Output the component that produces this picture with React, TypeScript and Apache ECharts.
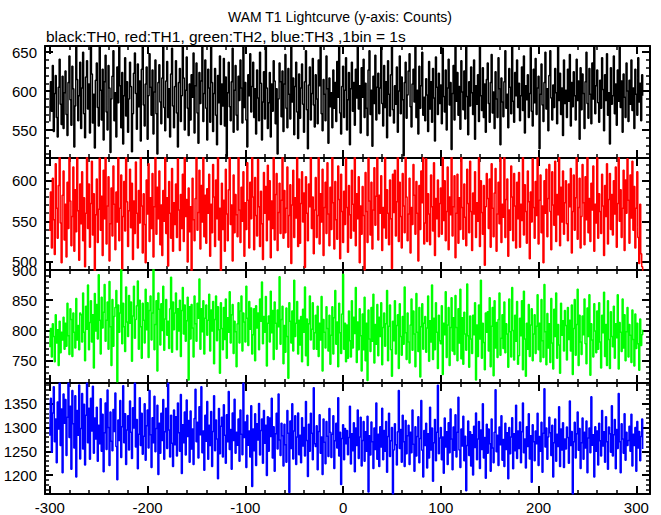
import React, { useEffect, useRef } from "react";
import * as echarts from "echarts";

// first bin time (s), 1 bin = 1 s
const T0 = -300;

// TH0 (black) counts per bin
const th0 = [
  561,612,574,633,548,597,620,566,541,605,641,583,557,619,552,598,
  626,570,543,611,645,589,556,632,603,528,581,657,615,562,594,637,
  552,604,650,571,540,618,639,577,609,546,658,622,559,596,527,614,
  636,579,555,659,601,563,628,537,612,646,573,550,633,604,521,590,
  619,652,562,598,541,631,585,658,607,553,624,532,594,643,568,612,
  547,590,637,606,522,571,623,649,597,551,635,580,613,536,628,658,
  582,555,609,631,538,594,648,605,569,627,545,599,640,571,519,611,
  634,586,558,617,658,579,549,613,638,566,603,541,622,655,581,553,
  606,639,572,528,611,629,561,594,658,617,550,601,644,578,543,609,
  563,621,592,649,546,607,636,572,533,624,584,613,658,561,597,640,
  578,537,628,604,560,658,611,548,597,629,569,531,620,585,645,557,
  609,581,642,555,618,516,598,637,580,562,612,655,547,601,633,569,
  550,619,588,640,604,559,658,579,611,563,528,621,594,648,573,606,
  637,566,603,545,627,591,562,650,610,537,586,625,564,658,604,552,
  585,624,541,609,574,639,613,558,603,519,590,636,612,567,626,548,
  609,647,578,553,629,596,564,658,586,617,544,606,637,573,539,622,
  565,604,635,583,547,612,652,576,526,608,631,563,597,642,582,554,
  621,590,558,640,607,658,571,549,615,596,562,645,603,533,617,580,
  598,553,627,578,611,561,638,592,658,572,545,606,632,566,601,643,
  550,589,624,531,603,637,574,611,556,628,591,658,577,607,546,630,
  592,641,566,610,578,543,627,652,570,601,529,619,584,646,563,605,
  623,571,604,658,584,555,633,579,612,540,639,596,568,621,658,576,
  559,607,583,631,547,600,645,571,618,589,517,611,637,565,595,626,
  648,580,554,609,628,586,658,566,601,545,632,578,607,650,569,592,
  562,616,595,548,638,577,612,560,629,591,536,644,605,570,623,584,
  608,558,655,593,573,627,550,604,641,582,611,525,597,633,563,658,
  587,624,569,606,551,639,599,576,626,564,658,593,544,612,581,631,
  598,570,640,538,607,583,621,561,658,594,575,630,566,609,547,615,
  636,584,560,611,647,572,599,552,625,590,566,643,603,531,617,586,
  567,612,652,578,596,553,629,605,571,658,587,560,624,594,640,579,
  610,562,594,631,575,645,546,607,589,621,566,597,656,574,555,628,
  585,642,570,604,619,526,596,635,582,561,611,650,577,603,549,620,
  652,591,563,608,579,629,598,558,658,588,623,570,604,543,640,584,
  601,566,628,587,647,555,611,580,625,594,563,641,588,613,538,630,
  576,622,597,552,612,650,584,565,629,596,558,636,590,658,571,607,
  627,585,560,614,578,643,602,549,621,588,648,569,598,532,630,583,
  594,645,571,609,556,627,587,658,579,613,547,622,592,566,636,600,
  561,614,583,640,575,604,552,628,596,569,643,586,610,562,621,594,
];

// TH1 (red) counts per bin
const th1 = [
  538,586,517,603,552,509,621,566,529,594,635,548,499,582,612,527,
  571,506,598,541,630,575,520,556,617,513,589,537,640,563,502,596,
  547,611,526,579,494,560,637,541,596,518,572,624,533,584,488,558,
  602,524,565,628,539,581,508,613,553,648,522,569,605,501,547,591,
  532,618,571,515,586,549,633,526,566,607,491,556,599,538,641,574,
  519,563,614,542,597,503,575,535,623,560,517,588,548,645,569,511,
  584,546,499,601,559,621,525,579,541,609,506,568,631,534,592,553,
  612,521,570,508,588,550,646,535,579,495,599,560,529,615,513,573,
  546,596,530,627,564,514,583,541,608,525,638,556,577,500,591,537,
  568,489,603,552,526,578,632,539,561,613,516,594,549,650,531,582,
  523,590,560,608,507,571,536,620,580,519,601,553,629,527,566,488,
  597,540,576,513,614,559,526,589,642,546,570,501,607,536,583,558,
  531,634,564,524,592,550,611,507,573,540,622,576,517,598,553,655,
  580,515,604,557,532,626,568,519,587,547,503,610,560,593,526,619,
  552,600,505,575,541,640,527,583,609,514,561,597,535,576,650,529,
  588,536,566,617,518,557,595,498,570,613,530,579,554,636,519,602,
  523,572,611,549,585,493,605,560,526,596,568,644,541,580,510,564,
  604,530,557,630,522,584,549,614,508,567,598,535,622,559,520,592,
  540,648,573,516,599,552,528,618,577,504,608,562,524,587,546,628,
  567,512,594,558,529,613,571,538,643,520,584,553,605,499,569,534,
  593,557,490,610,562,524,628,575,533,598,516,564,616,545,581,655,
  527,582,560,606,514,567,542,636,529,589,560,521,601,553,492,608,
  561,613,532,574,638,525,598,556,517,609,569,536,630,580,526,559,
  603,511,567,546,620,582,534,599,560,501,594,540,612,573,649,522,
  548,627,525,584,559,521,607,568,538,622,508,578,553,601,531,572,
  591,534,645,551,600,526,562,617,515,580,558,632,532,568,606,505,
  560,608,523,579,540,634,567,528,596,555,520,614,572,536,624,562,
  514,585,559,611,530,573,550,653,519,600,561,534,594,496,568,609,
  578,541,602,518,621,566,531,585,615,513,559,598,547,637,524,571,
  555,652,530,577,602,507,564,539,618,580,526,609,569,517,598,553,
  610,518,571,551,632,533,595,562,523,612,574,504,586,549,627,567,
  529,599,557,645,522,576,607,536,569,499,600,560,614,531,578,620,
  562,515,611,570,545,624,525,583,558,640,520,592,549,612,534,573,
  600,547,526,596,568,615,511,562,607,539,579,631,528,567,603,517,
  556,620,573,521,605,552,646,536,578,525,597,564,618,513,571,548,
  635,529,584,562,535,608,569,508,594,556,621,522,577,609,540,583,
  533,600,559,617,518,572,631,550,589,530,566,613,514,601,560,627,
  576,523,607,554,624,539,593,517,566,611,530,498,571,510,494,486,
];

// TH2 (green) counts per bin
const th2 = [
  772,803,756,811,790,748,826,779,801,742,815,763,797,784,822,769,
  812,774,845,791,760,836,818,757,829,797,771,853,784,808,768,829,
  826,781,862,797,750,840,802,875,768,813,849,781,826,738,861,799,
  843,786,892,817,761,855,804,830,876,782,817,847,769,881,806,742,
  851,774,823,838,866,715,842,797,829,901,778,845,806,765,872,814,
  790,858,812,847,749,824,873,787,818,841,882,769,850,806,754,845,
  817,779,868,801,846,755,833,857,784,829,903,768,810,849,733,862,
  835,776,844,800,873,767,819,851,792,815,770,836,888,764,847,801,
  829,862,768,836,799,850,757,833,871,794,842,782,816,855,718,839,
  786,843,804,756,857,811,782,845,820,885,769,836,798,849,761,820,
  842,792,817,860,766,834,799,848,745,818,857,783,839,801,729,846,
  803,768,838,785,852,754,821,797,864,779,826,843,762,815,798,740,
  811,846,779,832,857,766,829,814,781,873,820,775,848,802,837,761,
  793,836,750,841,804,829,768,852,815,880,778,823,797,856,741,812,
  824,781,865,796,833,752,847,812,769,834,806,889,777,818,840,745,
  808,764,837,790,721,846,815,779,832,766,883,790,812,848,761,817,
  776,823,748,835,797,872,758,819,742,811,857,784,802,846,769,796,
  825,769,840,757,812,784,856,733,818,797,771,839,803,766,825,744,
  792,839,761,821,866,777,814,740,845,796,762,827,893,769,812,748,
  809,754,832,783,756,849,771,822,795,871,747,814,768,836,791,733,
  827,768,855,750,812,717,834,786,765,838,782,860,746,810,777,843,
  758,822,790,846,743,805,829,774,811,866,750,807,842,768,724,815,
  783,849,761,808,826,737,844,790,759,823,777,872,796,752,829,781,
  746,809,852,767,832,794,740,861,797,765,838,723,806,844,769,812,
  823,764,804,857,749,816,781,875,752,820,768,846,797,737,825,783,
  778,841,727,812,793,864,755,809,838,742,805,854,766,821,760,858,
  805,750,836,779,868,753,821,744,830,794,767,877,791,739,824,786,
  762,825,793,846,718,809,757,842,786,883,754,812,780,735,829,797,
  831,766,854,740,807,838,725,849,771,813,755,818,862,759,787,826,
  770,847,763,811,794,739,852,798,756,871,800,751,825,782,848,744,
  758,820,791,849,735,865,786,724,812,769,843,757,809,836,750,794,
  826,762,807,859,768,812,748,851,783,755,876,798,743,828,771,811,
  747,853,779,736,835,790,862,754,810,776,729,845,792,816,766,833,
  808,751,838,785,817,766,842,727,803,851,759,810,868,742,825,781,
  760,824,793,852,778,745,837,790,859,726,811,784,756,844,799,763,
  832,769,846,781,738,825,796,863,757,810,742,849,785,737,831,790,
  773,840,754,811,788,859,736,813,797,765,852,771,826,750,798,838,
  756,810,792,747,834,785,741,827,770,812,778,734,819,775,793,801,
];

// TH3 (blue) counts per bin
const th3 = [
  1283,1362,1248,1331,1386,1270,1318,1226,1354,1297,1394,1262,1339,1205,1371,1309,
  1359,1241,1322,1394,1279,1345,1212,1378,1308,1257,1367,1196,1336,1284,1390,1234,
  1298,1372,1255,1349,1221,1326,1394,1268,1341,1233,1362,1293,1387,1246,1320,1276,
  1343,1229,1305,1266,1361,1250,1328,1207,1289,1352,1254,1379,1300,1220,1333,1271,
  1251,1338,1292,1373,1260,1190,1316,1273,1357,1237,1302,1388,1268,1329,1222,1295,
  1325,1253,1356,1290,1235,1342,1299,1394,1259,1317,1213,1286,1363,1262,1330,1244,
  1282,1350,1231,1304,1337,1257,1378,1285,1216,1321,1268,1366,1249,1298,1347,1201,
  1309,1246,1330,1273,1359,1233,1291,1341,1256,1394,1295,1238,1326,1267,1218,1337,
  1264,1323,1240,1352,1289,1250,1370,1203,1306,1268,1333,1242,1358,1281,1315,1227,
  1335,1255,1297,1222,1319,1381,1270,1311,1236,1344,1285,1386,1247,1293,1210,1326,
  1271,1355,1233,1305,1262,1334,1218,1292,1367,1251,1316,1276,1192,1340,1245,1303,
  1322,1238,1348,1284,1225,1327,1270,1376,1254,1296,1212,1331,1273,1360,1246,1290,
  1263,1318,1229,1337,1286,1243,1394,1279,1312,1216,1326,1263,1293,1238,1346,1176,
  1297,1251,1329,1220,1308,1274,1351,1242,1294,1318,1225,1336,1267,1305,1199,1323,
  1250,1320,1281,1362,1236,1302,1208,1287,1330,1255,1371,1274,1241,1309,1283,1219,
  1307,1264,1227,1336,1288,1163,1314,1256,1350,1234,1293,1325,1222,1280,1331,1243,
  1284,1226,1321,1261,1300,1240,1355,1273,1197,1307,1250,1330,1288,1232,1384,1266,
  1260,1304,1211,1292,1327,1246,1280,1201,1318,1269,1224,1313,1282,1239,1340,1290,
  1237,1286,1325,1214,1272,1309,1257,1363,1240,1290,1180,1277,1306,1232,1298,1266,
  1294,1243,1279,1345,1223,1287,1251,1310,1207,1299,1262,1337,1235,1280,1322,1219,
  1273,1313,1229,1291,1250,1324,1164,1283,1242,1312,1270,1214,1299,1254,1352,1233,
  1286,1218,1302,1259,1341,1232,1294,1250,1313,1206,1281,1330,1239,1272,1300,1160,
  1253,1308,1264,1221,1291,1378,1256,1296,1227,1326,1270,1218,1315,1245,1283,1305,
  1222,1290,1247,1337,1265,1208,1302,1240,1281,1323,1226,1277,1357,1252,1196,1294,
  1262,1309,1215,1287,1236,1343,1253,1299,1187,1268,1317,1230,1290,1389,1245,1278,
  1300,1232,1280,1204,1320,1259,1291,1222,1310,1247,1339,1276,1211,1301,1252,1327,
  1238,1290,1364,1253,1216,1297,1261,1324,1230,1282,1167,1262,1314,1241,1291,1219,
  1285,1200,1303,1258,1331,1232,1276,1313,1214,1295,1254,1350,1236,1279,1193,1307,
  1246,1297,1266,1208,1318,1257,1226,1290,1380,1249,1284,1220,1301,1264,1325,1231,
  1275,1218,1309,1254,1289,1192,1300,1245,1280,1321,1213,1287,1251,1347,1235,1293,
  1256,1312,1226,1291,1352,1247,1276,1215,1302,1260,1329,1234,1283,1185,1306,1270,
  1230,1293,1266,1330,1220,1281,1250,1311,1206,1288,1382,1259,1299,1233,1280,1322,
  1289,1241,1305,1196,1268,1318,1229,1286,1260,1344,1218,1297,1253,1310,1216,1276,
  1255,1301,1279,1225,1356,1262,1292,1160,1270,1311,1236,1287,1333,1252,1298,1214,
  1268,1320,1233,1290,1257,1314,1205,1278,1299,1247,1365,1263,1285,1196,1302,1250,
  1293,1221,1309,1272,1240,1336,1261,1291,1227,1323,1270,1212,1301,1287,1248,1346,
  1240,1285,1317,1213,1296,1256,1372,1270,1205,1308,1276,1246,1329,1231,1290,1262,
  1273,1303,1250,1328,1219,1286,1262,1300,1208,1313,1257,1292,1230,1281,1318,1255,
];

// axis ranges and tick labels
const xRange = [-305, 314];
const xMajor = [-300, -200, -100, 0, 100, 200, 300];
const yRanges = [[514, 658], [490, 628], [713, 900], [1160, 1394]];
const yMajor = [
  [550, 600, 650],
  [500, 550, 600],
  [750, 800, 850, 900],
  [1200, 1250, 1300, 1350],
];
const seriesNames = ["TH0", "TH1", "TH2", "TH3"];
const seriesColors = ["#000000", "#ff0000", "#00ff00", "#0000ff"];
const seriesData = [th0, th1, th2, th3];

const titleText = "WAM T1 Lightcurve (y-axis: Counts)";
const subText = "black:TH0, red:TH1, green:TH2, blue:TH3 ,1bin = 1s";

function steps(a: number, b: number, s: number): number[] {
  const out: number[] = [];
  for (let v = a; v <= b; v += s) out.push(v);
  return out;
}

const FONT = "'Liberation Sans', Arial, Helvetica, sans-serif";
const plain = (v: number) => String(v);

export default function App() {
  const ref = useRef<HTMLDivElement>(null);
  useEffect(() => {
    document.body.style.margin = "0";
    if (!ref.current) return;
    const chart = echarts.init(ref.current, undefined, { renderer: "svg" });

    const gridTops = [46, 158, 270, 383];
    const gridHeights = [112, 112, 113, 112];
    const grids = gridTops.map((t, i) => ({
      left: 45,
      width: 605,
      top: t,
      height: gridHeights[i],
    }));

    const xMinor = steps(-300, 300, 20);
    const xAxes: any[] = [];
    const yAxes: any[] = [];
    const series: any[] = [];

    for (let g = 0; g < 4; g++) {
      const yMinor = steps(Math.ceil(yRanges[g][0] / 10) * 10, yRanges[g][1], 10);
      const xBase = {
        gridIndex: g,
        type: "value",
        min: xRange[0],
        max: xRange[1],
        splitLine: { show: false },
      };
      const xFirst = xAxes.length;
      xAxes.push({
        ...xBase,
        position: "bottom",
        axisLine: { show: true, onZero: false, lineStyle: { color: "#000", width: 2 } },
        axisTick: { show: true, inside: true, length: 8, customValues: xMajor, lineStyle: { color: "#000", width: 2 } },
        axisLabel: {
          show: g === 3,
          customValues: xMajor,
          formatter: plain,
          color: "#000",
          fontSize: 15,
          fontFamily: FONT,
          margin: 6,
        },
      });
      xAxes.push({
        ...xBase,
        position: "top",
        axisLine: { show: true, onZero: false, lineStyle: { color: "#000", width: 2 } },
        axisTick: { show: true, inside: true, length: 8, customValues: xMajor, lineStyle: { color: "#000", width: 2 } },
        axisLabel: { show: false },
      });
      for (const pos of ["bottom", "top"]) {
        xAxes.push({
          ...xBase,
          position: pos,
          axisLine: { show: false, onZero: false },
          axisTick: { show: true, inside: true, length: 4, customValues: xMinor, lineStyle: { color: "#000", width: 1.5 } },
          axisLabel: { show: false },
        });
      }

      const yBase = {
        gridIndex: g,
        type: "value",
        min: yRanges[g][0],
        max: yRanges[g][1],
        splitLine: { show: false },
      };
      const yFirst = yAxes.length;
      yAxes.push({
        ...yBase,
        position: "left",
        axisLine: { show: true, onZero: false, lineStyle: { color: "#000", width: 2 } },
        axisTick: { show: true, inside: true, length: 8, customValues: yMajor[g], lineStyle: { color: "#000", width: 2 } },
        axisLabel: {
          show: true,
          customValues: yMajor[g],
          formatter: plain,
          color: "#000",
          fontSize: 15,
          fontFamily: FONT,
          margin: 8,
        },
      });
      yAxes.push({
        ...yBase,
        position: "right",
        axisLine: { show: true, onZero: false, lineStyle: { color: "#000", width: 2 } },
        axisTick: { show: true, inside: true, length: 8, customValues: yMajor[g], lineStyle: { color: "#000", width: 2 } },
        axisLabel: { show: false },
      });
      for (const pos of ["left", "right"]) {
        yAxes.push({
          ...yBase,
          position: pos,
          axisLine: { show: false, onZero: false },
          axisTick: { show: true, inside: true, length: 4, customValues: yMinor, lineStyle: { color: "#000", width: 1.5 } },
          axisLabel: { show: false },
        });
      }

      series.push({
        name: seriesNames[g],
        type: "line",
        xAxisIndex: xFirst,
        yAxisIndex: yFirst,
        step: "middle",
        showSymbol: false,
        symbol: "none",
        clip: true,
        lineStyle: { color: seriesColors[g], width: 1.5 },
        itemStyle: { color: seriesColors[g] },
        data: seriesData[g].map((v, i) => [T0 + i, v]),
      });
    }

    chart.setOption({
      animation: false,
      backgroundColor: "#ffffff",
      title: [
        {
          text: titleText,
          left: 340,
          top: 10,
          textAlign: "center",
          padding: 0,
          textStyle: { fontSize: 14, fontWeight: "normal", color: "#000", fontFamily: FONT },
        },
        {
          text: subText,
          left: 46,
          top: 28,
          padding: 0,
          textStyle: { fontSize: 15.5, fontWeight: "normal", color: "#000", fontFamily: FONT },
        },
      ],
      grid: grids,
      xAxis: xAxes,
      yAxis: yAxes,
      series,
    });
    return () => chart.dispose();
  }, []);
  return <div ref={ref} style={{ width: 661, height: 515 }} />;
}
